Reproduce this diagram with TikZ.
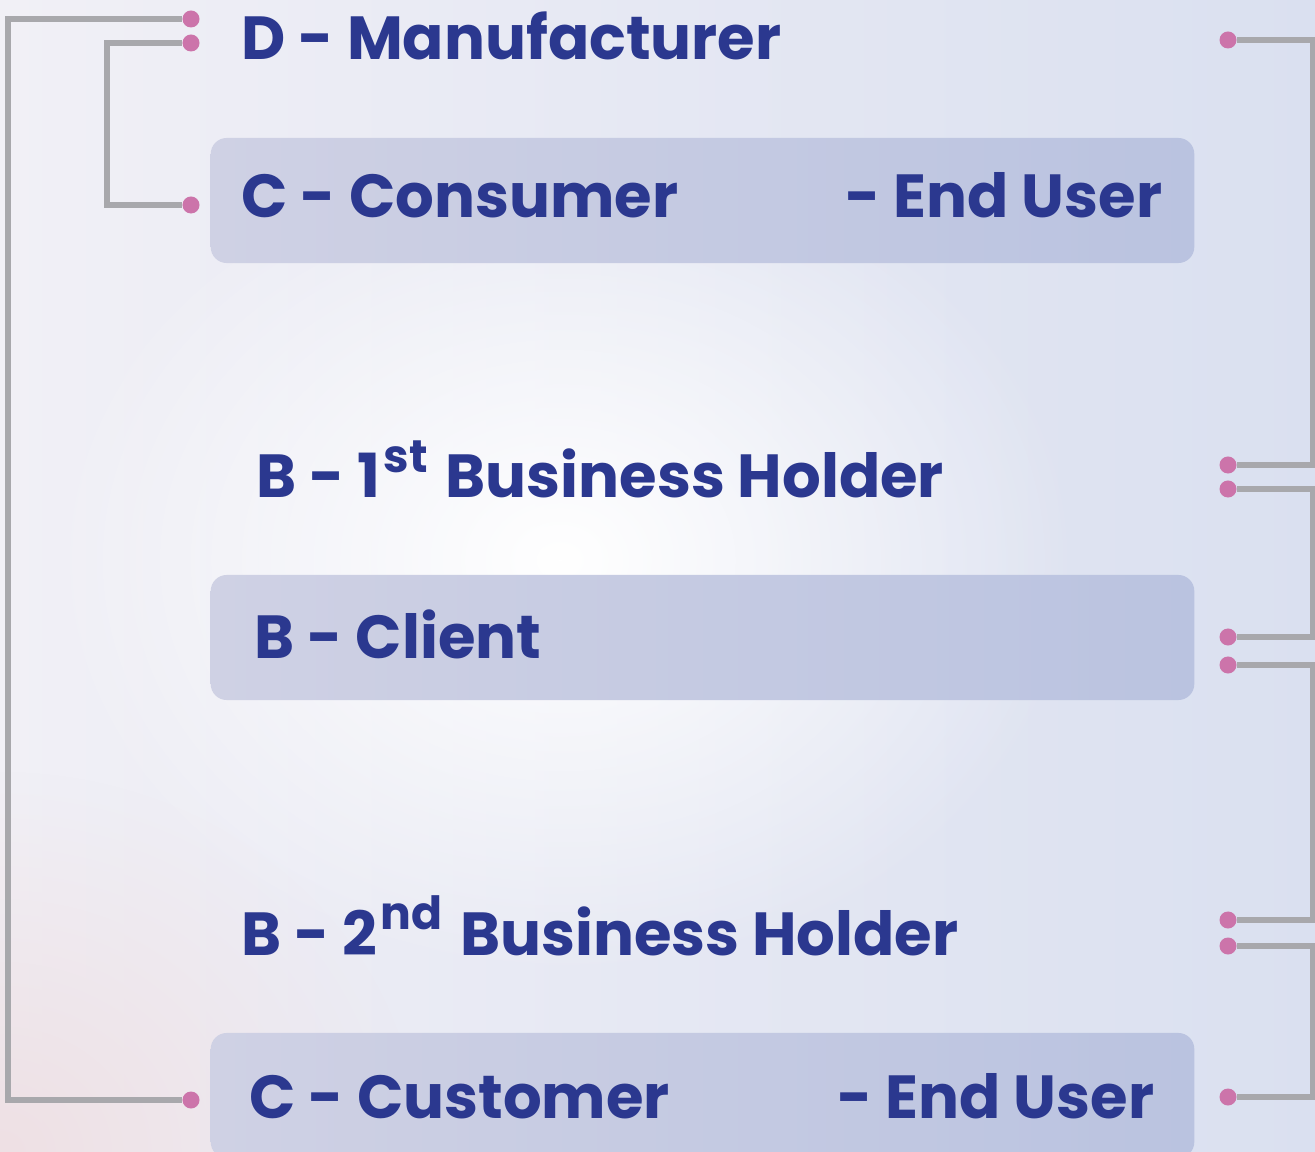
\documentclass[tikz,border=0pt]{standalone}
\usepackage{fontspec}
\setmainfont{Poppins}
\usepackage{xcolor}
\usepackage{tikz}
\usetikzlibrary{fadings}

\definecolor{inkblue}{RGB}{43,56,143}
\definecolor{linkgray}{RGB}{168,168,172}
\definecolor{dotpink}{RGB}{204,116,170}
\definecolor{boxleft}{RGB}{207,209,228}
\definecolor{boxright}{RGB}{186,195,224}
\definecolor{bgleft}{RGB}{241,240,246}
\definecolor{bgright}{RGB}{218,224,240}
\definecolor{bgpink}{RGB}{238,224,228}

\tikzfading[name=glow, inner color=transparent!0, outer color=transparent!100]

\newcommand{\ordsup}[1]{\kern0.05em\raisebox{0.42em}{\fontsize{13pt}{13pt}\selectfont #1}\kern0.08em\relax}

\begin{document}
\begin{tikzpicture}[
				x=0.01cm, y=-0.01cm,
				font=\fontsize{17.3pt}{20pt}\selectfont\bfseries,
				role/.style={
					text=inkblue, inner sep=0pt
				},
				band/.style={
					rectangle, rounded corners=0.16cm,
					left color=boxleft, right color=boxright,
					minimum width=9.83cm, minimum height=1.25cm,
					inner sep=0pt
				},
				dot/.style={
					circle, fill=dotpink,
					minimum size=0.17cm, inner sep=0pt
				},
				link/.style={draw=linkgray, line width=1.5pt}
				]
				
				%% ─── BACKGROUND ──────────────────────────────────────────────────────
				\clip (0,0) rectangle (1315,1152);
				\shade[left color=bgleft, right color=bgright] (0,0) rectangle (1315,1152);
				\fill[bgpink, path fading=glow] (0,1152) ellipse (420 and 380);
				\fill[white, path fading=glow] (560,560) ellipse (520 and 420);
				
				%% ─── BANDS ───────────────────────────────────────────────────────────
				\node[band] (bc1) at (702.5,200.5) {};
				\node[band] (bcl) at (702.5,637.5) {};
				\node[band] (bc2) at (702.5,1095.5) {};
				
				%% ─── LABELS ──────────────────────────────────────────────────────────
				\node[role, anchor=base west] (man) at (241,60) {D - Manufacturer};
				\node[role, anchor=base west] (con) at (241,218) {C - Consumer};
				\node[role, anchor=base east] (eu1) at (1163,218) {- End User};
				\node[role, anchor=base west] (bh1) at (256,498) {B - 1\ordsup{st} Business Holder};
				\node[role, anchor=base west] (cli) at (254,658) {B - Client};
				\node[role, anchor=base west] (bh2) at (241,955) {B - 2\ordsup{nd} Business Holder};
				\node[role, anchor=base west] (cus) at (249,1118) {C - Customer};
				\node[role, anchor=base east] (eu2) at (1155,1118) {- End User};
				
				%% ─── DOTS ────────────────────────────────────────────────────────────
				\node[dot] (lm1) at (191,19) {};
				\node[dot] (lm2) at (191,43) {};
				\node[dot] (lc1) at (191,205) {};
				\node[dot] (lc2) at (191,1100) {};
				
				\node[dot] (rm) at (1228,40) {};
				\node[dot] (rb1a) at (1228,465) {};
				\node[dot] (rb1b) at (1228,489) {};
				\node[dot] (rcla) at (1228,637) {};
				\node[dot] (rclb) at (1228,665) {};
				\node[dot] (rb2a) at (1228,920) {};
				\node[dot] (rb2b) at (1228,946) {};
				\node[dot] (rcu) at (1228,1097) {};
				
				\coordinate (xl1) at (8,0);
				\coordinate (xl2) at (107,0);
				\coordinate (xr) at (1313,0);
				
				%% ─── LINKS ───────────────────────────────────────────────────────────
				\draw[link] (lm1) -- (lm1 -| xl1) |- (lc2);
				\draw[link] (lm2) -- (lm2 -| xl2) |- (lc1);
				
				\draw[link] (rm) -- (rm -| xr) |- (rb1a);
				\draw[link] (rb1b) -- (rb1b -| xr) |- (rcla);
				\draw[link] (rclb) -- (rclb -| xr) |- (rb2a);
				\draw[link] (rb2b) -- (rb2b -| xr) |- (rcu);
				
			\end{tikzpicture}
\end{document}
